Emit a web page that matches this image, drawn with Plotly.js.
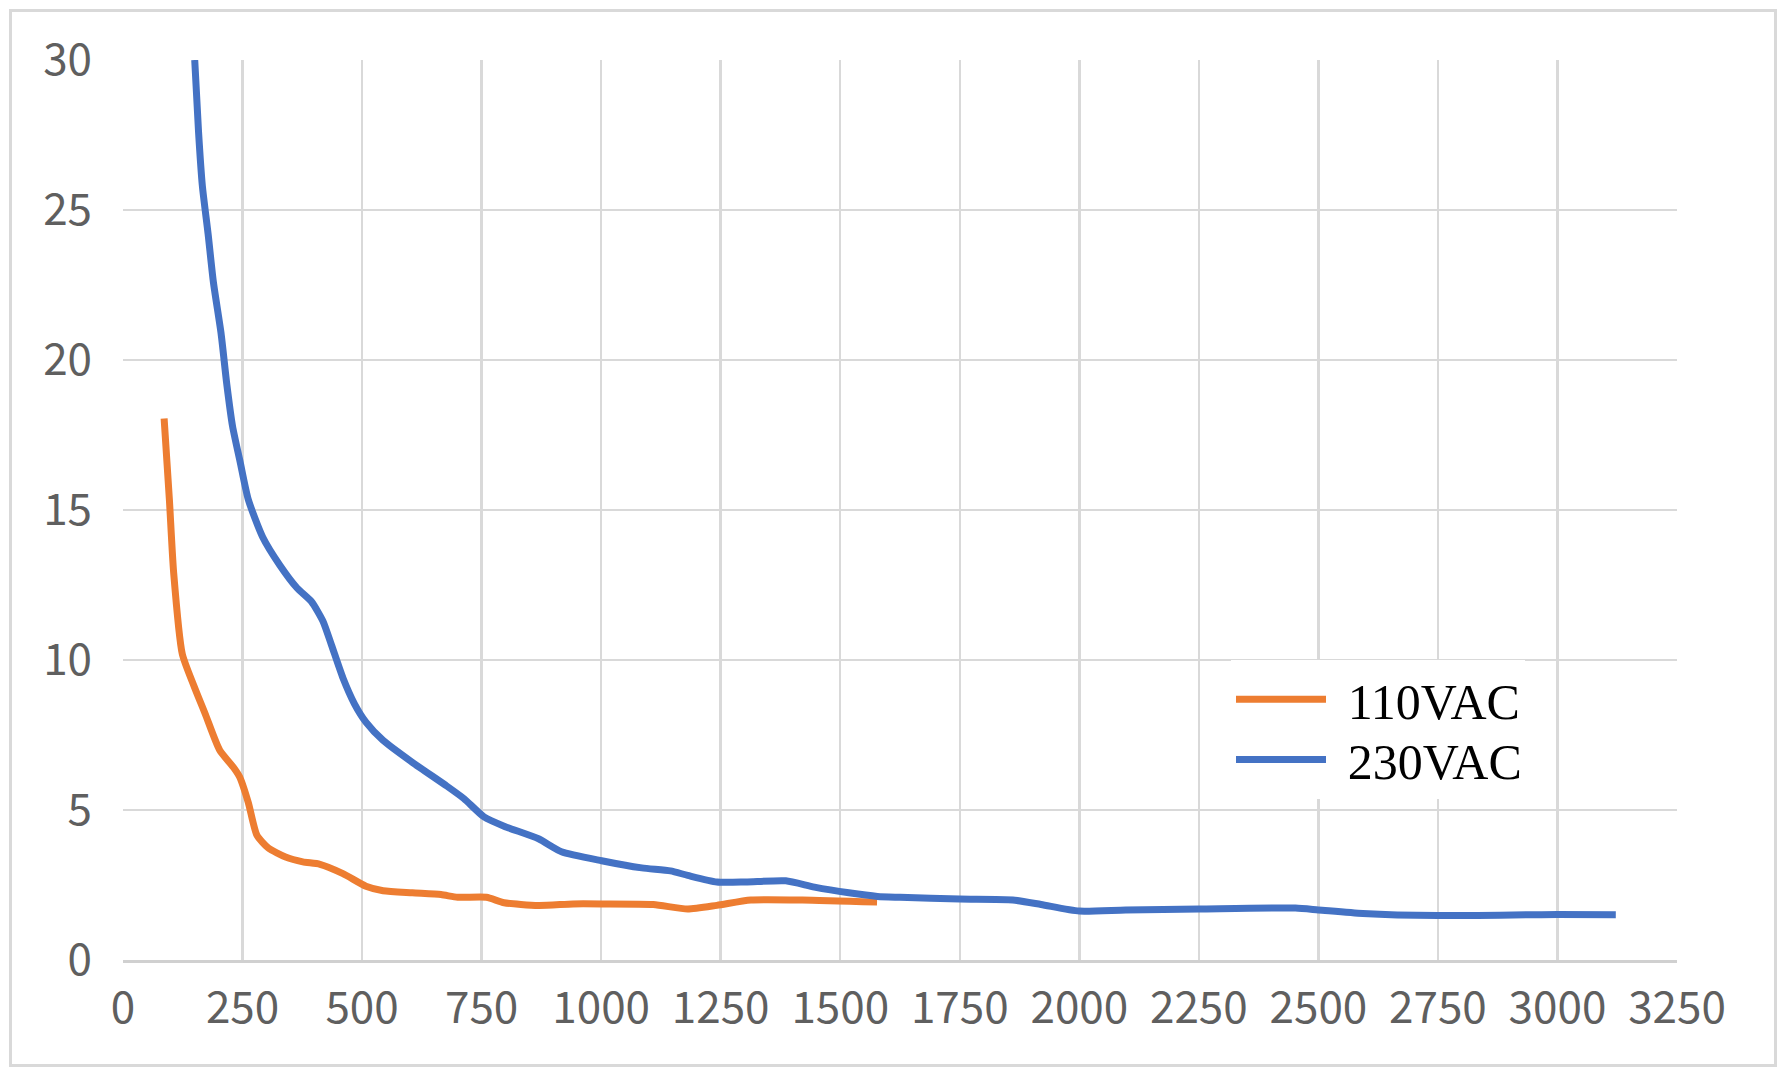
<!DOCTYPE html>
<html>
<head>
<meta charset="utf-8">
<script src="https://cdn.plot.ly/plotly-3.0.1.min.js"></script>
<style>
  body { margin: 0; background: #ffffff; }
  #chart { position: absolute; left: 0; top: 0; width: 1786px; height: 1072px; }
  #frame { position: absolute; left: 9px; top: 9px; width: 1762px; height: 1052px;
           border: 3px solid #d9d9d9; pointer-events: none; }
</style>
</head>
<body>
<div id="chart"></div>
<div id="frame"></div>
<script>
// 110VAC curve
var x110 = [86, 97, 106, 124, 148, 172, 202, 232, 244, 262, 280, 304, 340, 376, 412, 460, 508, 544,
            605, 665, 700, 760, 797, 869, 941, 1001, 1109, 1181, 1242, 1313, 1421, 1577]
var y110 = [18.05, 15.35, 12.9, 10.2, 9.15, 8.2, 7.0, 6.4, 6.1, 5.25, 4.16, 3.73, 3.43, 3.27, 3.19, 2.88, 2.46, 2.31,
            2.24, 2.18, 2.09, 2.09, 1.91, 1.82, 1.87, 1.87, 1.85, 1.70, 1.82, 2.0, 2.0, 1.93]

// 230VAC curve
var x230 = [150, 158, 166, 178, 189, 205, 217, 229, 245, 262, 292, 328, 364, 394, 418, 436, 460, 484, 508,
            544, 605, 677, 713, 755, 797, 869, 917, 1001, 1085, 1145, 1181, 1242, 1302, 1386, 1446, 1518,
            1578, 1625, 1750, 1861, 1920, 2000, 2097, 2250, 2452, 2500, 2593, 2750, 3000, 3122]
var y230 = [30, 27.6, 25.8, 24.2, 22.6, 20.9, 19.2, 17.8, 16.6, 15.35, 14.1, 13.16, 12.4, 11.95, 11.3, 10.5, 9.4, 8.54, 7.93,
            7.32, 6.59, 5.80, 5.38, 4.77, 4.46, 4.04, 3.61, 3.31, 3.07, 2.97, 2.82, 2.60, 2.60, 2.64, 2.43, 2.24,
            2.12, 2.09, 2.03, 2.0, 1.85, 1.63, 1.67, 1.70, 1.73, 1.67, 1.55, 1.48, 1.52, 1.51]

var tickFont = { family: "Noto Sans CJK SC, Noto Sans, sans-serif", size: 44, color: "#5f5f5f" }
var legendFont = { family: "Liberation Serif, DejaVu Serif, serif", size: 50, color: "#000000" }
var gap = "\u00A0\u200A"

var data = [
    {
        name: gap + "110VAC",
        legend: "legend",
        x: x110,
        y: y110,
        mode: "lines",
        type: "scatter",
        line: { shape: "spline", smoothing: 0.6, color: "#ED7D31", width: 7 }
    },
    {
        name: gap + "230VAC",
        legend: "legend2",
        x: x230,
        y: y230,
        mode: "lines",
        type: "scatter",
        line: { shape: "spline", smoothing: 0.6, color: "#4472C4", width: 7 }
    }
]

var layout = {
    width: 1786,
    height: 1072,
    margin: { l: 123, r: 109, t: 60, b: 112, pad: 0 },
    paper_bgcolor: "#ffffff",
    plot_bgcolor: "#ffffff",
    xaxis: {
        range: [0, 3250],
        dtick: 250,
        tick0: 0,
        showgrid: true,
        gridcolor: "#d9d9d9",
        gridwidth: 2.5,
        zeroline: false,
        showline: true,
        linecolor: "#d0d0d0",
        linewidth: 3,
        ticks: "",
        ticklabelstandoff: 7,
        tickfont: tickFont
    },
    yaxis: {
        range: [0, 30],
        dtick: 5,
        tick0: 0,
        showgrid: true,
        gridcolor: "#d9d9d9",
        gridwidth: 2.5,
        zeroline: false,
        showline: false,
        ticks: "",
        ticklabelstandoff: 30,
        tickfont: tickFont
    },
    showlegend: true,
    legend: {
        x: 0.713,
        y: 0.333,
        xanchor: "left",
        yanchor: "top",
        bgcolor: "#ffffff",
        borderwidth: 0,
        itemwidth: 90,
        font: legendFont
    },
    legend2: {
        x: 0.713,
        y: 0.266,
        xanchor: "left",
        yanchor: "top",
        bgcolor: "#ffffff",
        borderwidth: 0,
        itemwidth: 90,
        font: legendFont
    }
}

Plotly.newPlot("chart", data, layout, { displayModeBar: false, staticPlot: true })
</script>
</body>
</html>
